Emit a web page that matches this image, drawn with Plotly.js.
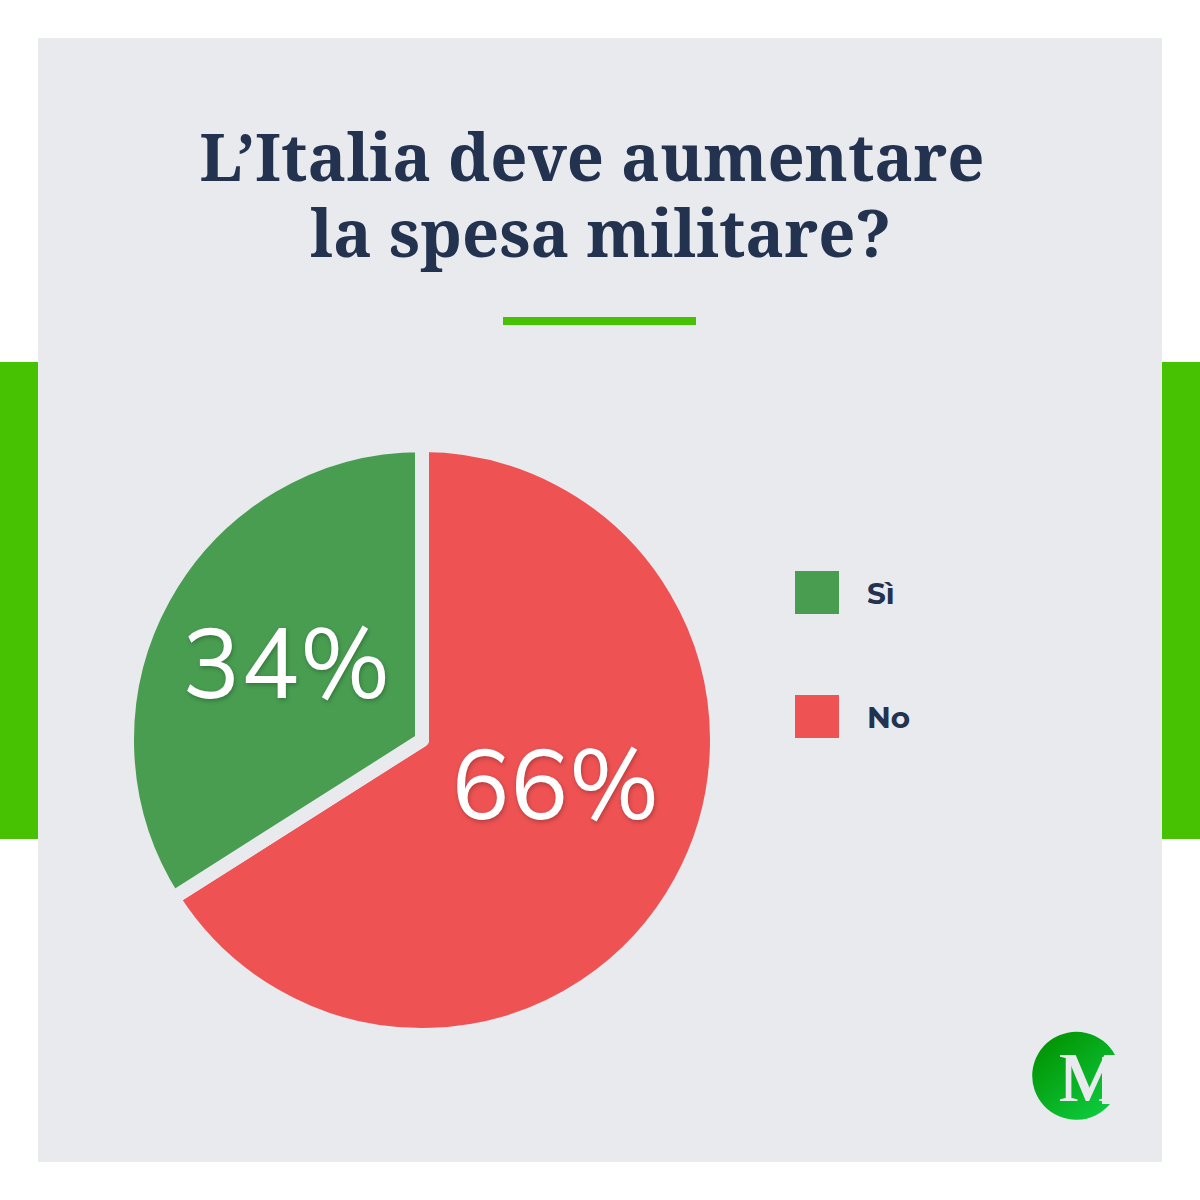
<!DOCTYPE html>
<html><head><meta charset="utf-8">
<script src="https://cdn.plot.ly/plotly-3.0.1.min.js"></script>
<style>html,body{margin:0;padding:0;background:#fff}</style></head>
<body><div id="chart" style="width:1200px;height:1200px"></div>
<script>
const categories = ["No", "Sì"];
const values = [66, 34];
const sliceColors = ["#EE5253", "#489D51"];
const legendLabels = ["Sì", "No"];
const legendColors = ["#489D51", "#EE5253"];
const titleLine1 = "L’Italia deve aumentare";
const titleLine2 = "la spesa militare?";
const logoLetter = "M";

const PANEL = "#E8EAEE", BAR = "#46C203", INK = "#22324F";
const SERIF = "'Noto Serif','Droid Serif','DejaVu Serif Condensed','DejaVu Serif',serif";
const px = v => v / 1200, py = v => 1 - v / 1200;
const rect = (x0, y0, x1, y1, c) => ({type:"rect", xref:"paper", yref:"paper", x0:px(x0), x1:px(x1), y0:py(y0), y1:py(y1), fillcolor:c, line:{width:0}, layer:"below"});
const logoSvg = `<svg xmlns="http://www.w3.org/2000/svg" width="100" height="100" viewBox="0 0 100 100"><defs><linearGradient id="g" x1="0.15" y1="0.1" x2="0.85" y2="0.95"><stop offset="0" stop-color="#029403"/><stop offset="1" stop-color="#0DCB3E"/></linearGradient></defs><path d="M 89 28 A 44 44 0 1 0 84 77 L 76 77 L 76 30 L 89 30 Z" fill="url(#g)"/></svg>`;

const trace = {
  type:"pie", labels:categories, values:values, sort:false, direction:"clockwise", rotation:0,
  marker:{colors:sliceColors, line:{color:PANEL, width:14}},
  domain:{x:[px(127), px(717)], y:[py(1035), py(445)]},
  textinfo:"none", hoverinfo:"label+percent", showlegend:false
};
const annotationBase = {xref:"paper", yref:"paper", showarrow:false};
const pctFont = {family:"'Nunito Sans', Nunito, 'Open Sans', sans-serif", size:98, color:"#fff", shadow:"1px 2px 4px rgba(0,0,0,0.25)"};
const legendFont = {family:"Montserrat, Nunito, Lato, sans-serif", size:29.5, color:INK, weight:700};
const layout = {
  width:1200, height:1200, margin:{l:0,r:0,t:0,b:0}, paper_bgcolor:"#fff", plot_bgcolor:"rgba(0,0,0,0)",
  showlegend:false,
  title:{text:titleLine1, font:{family:SERIF, size:65, color:INK, weight:700}, x:px(592), xanchor:"center", y:py(158), yanchor:"middle"},
  shapes:[
    rect(0,362,1200,839,BAR), rect(38,38,1162,1162,PANEL), rect(503,317,696,325,BAR),
    rect(795,571,839,614,legendColors[0]), rect(795,695,839,738,legendColors[1])
  ],
  images:[{source:"data:image/svg+xml;base64,"+btoa(logoSvg), xref:"paper", yref:"paper", x:px(1026), y:py(1027), sizex:px(100), sizey:px(100), xanchor:"left", yanchor:"top", sizing:"stretch", layer:"above"}],
  annotations:[
    {...annotationBase, text:titleLine2, x:px(600), y:py(232), xanchor:"center", yanchor:"middle", font:{family:SERIF, size:65, color:INK, weight:700}},
    {...annotationBase, text:values[1]+"%", x:px(286), y:py(666), xanchor:"center", yanchor:"middle", font:pctFont},
    {...annotationBase, text:values[0]+"%", x:px(555), y:py(787), xanchor:"center", yanchor:"middle", font:pctFont},
    {...annotationBase, text:legendLabels[0], x:px(865), y:py(592.5), xanchor:"left", yanchor:"middle", font:legendFont},
    {...annotationBase, text:legendLabels[1], x:px(865), y:py(716.5), xanchor:"left", yanchor:"middle", font:legendFont},
    {...annotationBase, text:logoLetter, x:px(1057), y:py(1078), xanchor:"left", yanchor:"middle", font:{family:"'Liberation Serif',serif", size:69, color:PANEL, shadow:"1px 0 0 #E8EAEE, -1px 0 0 #E8EAEE"}}
  ]
};
Plotly.newPlot("chart",[trace],layout,{displayModeBar:false,staticPlot:true});
</script></body></html>
